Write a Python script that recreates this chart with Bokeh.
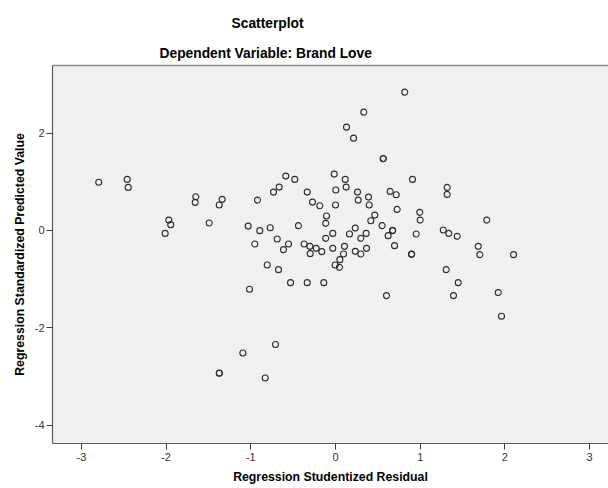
from bokeh.plotting import figure
from bokeh.models import Range1d, FixedTicker, LinearAxis, Title
from bokeh.embed import file_html
from bokeh.resources import INLINE

title_main = "Scatterplot"
title_sub = "Dependent Variable: Brand Love"
x_label = "Regression Studentized Residual"
y_label = "Regression Standardized Predicted Value"

x_ticks = [-3, -2, -1, 0, 1, 2, 3]
y_ticks = [-4, -2, 0, 2]

# Regression Studentized Residual
x_resid = [
    -2.795, -2.459, -2.447, -2.011, -1.968, -1.945, -1.649, -1.656, -1.491, -1.338,
    -1.373, -0.921, -1.031, -0.894, -0.771, -0.953, -0.806, -0.673, -1.015, -0.708,
    -1.094, -1.373, -1.370, -0.830, -0.587, -0.481, -0.665, -0.732, -0.334, -0.272,
    -0.185, -0.437, -0.688, -0.555, -0.614, -0.370, -0.303, -0.228, -0.299, -0.162,
    -0.531, -0.334, -0.138, -0.015, 0.115, 0.126, 0.004, 0.260, 0.390, 0.268,
    0.398, 0.646, 0.717, 0.728, 0.000, -0.106, -0.115, 0.464, 0.417, 0.551,
    0.233, 0.165, 0.362, 0.673, 0.676, 0.622, -0.032, -0.115, 0.299, -0.032,
    0.106, 0.094, 0.233, 0.299, 0.366, 0.697, 0.051, -0.004, 0.047, 0.602,
    0.334, 0.130, 0.213, 0.563, 0.566, 0.818, 0.909, 1.319, 1.319, 0.995,
    1.000, 1.786, 0.953, 1.272, 1.338, 1.437, 1.685, 1.704, 2.102, 0.897,
    0.900, 1.307, 1.449, 1.393, 1.921, 1.960,
]

# Regression Standardized Predicted Value
y_pred = [
    0.990, 1.047, 0.883, -0.062, 0.211, 0.117, 0.692, 0.575, 0.150, 0.637,
    0.520, 0.622, 0.088, -0.006, 0.055, -0.281, -0.713, -0.807, -1.211, -2.347,
    -2.520, -2.936, -2.930, -3.033, 1.115, 1.047, 0.889, 0.786, 0.786, 0.581,
    0.507, 0.097, -0.179, -0.281, -0.396, -0.281, -0.329, -0.370, -0.478, -0.437,
    -1.074, -1.074, -1.074, 1.156, 1.047, 0.889, 0.828, 0.786, 0.684, 0.622,
    0.520, 0.801, 0.733, 0.431, 0.520, 0.294, 0.144, 0.314, 0.199, 0.097,
    0.047, -0.076, -0.062, -0.006, 0.000, -0.109, -0.062, -0.164, -0.164, -0.370,
    -0.329, -0.487, -0.431, -0.487, -0.370, -0.314, -0.602, -0.713, -0.760, -1.341,
    2.429, 2.121, 1.895, 1.472, 1.478, 2.840, 1.047, 0.883, 0.739, 0.370,
    0.211, 0.211, -0.076, 0.006, -0.062, -0.123, -0.329, -0.499, -0.499, -0.493,
    -0.487, -0.807, -1.074, -1.341, -1.279, -1.766,
]

FONT = "Liberation Sans"

p = figure(
    width=608, height=488,
    output_backend="svg", toolbar_location=None,
    x_range=Range1d(-3.341, 3.223), y_range=Range1d(-4.38, 3.388),
    min_border_left=52, min_border_right=0, min_border_top=65, min_border_bottom=45,
    background_fill_color="#f0f0f0", border_fill_color="white",
    outline_line_color=None,
)
p.grid.visible = False

for ax in (p.xaxis[0], p.yaxis[0]):
    ax.axis_line_color = "#5a5a5a"
    ax.axis_line_width = 1.2
    ax.major_tick_line_color = "#3a3a3a"
    ax.major_tick_out = 6
    ax.major_tick_in = 0
    ax.minor_tick_out = 0
    ax.minor_tick_in = 0
    ax.major_label_text_font = FONT
    ax.major_label_text_font_size = "11px"
    ax.major_label_text_color = "#333333"

p.xaxis[0].ticker = FixedTicker(ticks=x_ticks)
p.yaxis[0].ticker = FixedTicker(ticks=y_ticks)
p.xaxis[0].major_label_overrides = {t: str(t) for t in x_ticks}
p.yaxis[0].major_label_overrides = {t: str(t) for t in y_ticks}
p.xaxis[0].major_label_standoff = 3
p.yaxis[0].major_label_standoff = 2

p.xaxis[0].axis_label = x_label
p.yaxis[0].axis_label = y_label
for ax in (p.xaxis[0], p.yaxis[0]):
    ax.axis_label_text_font = FONT
    ax.axis_label_text_font_style = "bold"
    ax.axis_label_text_font_size = "12.3px"
    ax.axis_label_text_color = "black"
p.yaxis[0].axis_label_standoff = 5
p.xaxis[0].axis_label_standoff = 6

top_axis = LinearAxis(
    ticker=FixedTicker(ticks=[]), axis_line_color="#8a8a8a", axis_line_width=1.5,
    major_tick_out=0, major_tick_in=0, minor_tick_out=0, minor_tick_in=0,
    major_label_text_font_size="0px",
)
p.add_layout(top_axis, "above")

p.add_layout(Title(text=title_sub, align="left", offset=107, text_font=FONT,
                   text_font_style="bold", text_font_size="13.8px", text_color="black",
                   standoff=10), "above")
p.add_layout(Title(text=title_main, align="left", offset=179, text_font=FONT,
                   text_font_style="bold", text_font_size="13.8px", text_color="black",
                   standoff=16), "above")

p.scatter(x_resid, y_pred, marker="circle", size=6, fill_color=None,
          line_color="#2b2b2b", line_width=1.1)

open("out.html", "w").write(file_html(p, INLINE))
